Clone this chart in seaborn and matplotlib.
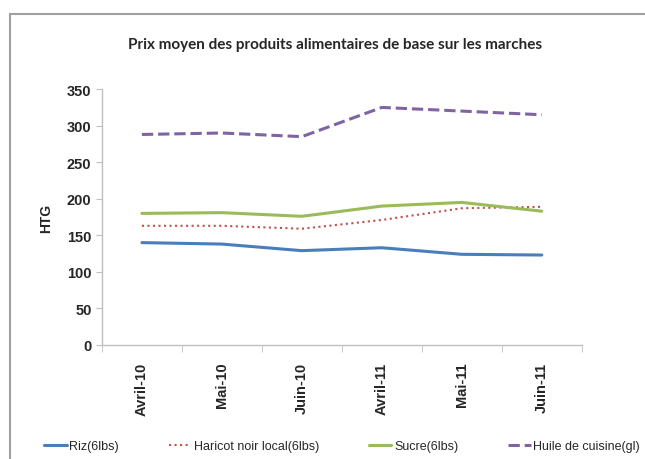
import pandas as pd
import matplotlib.pyplot as plt
import seaborn as sns
from matplotlib.patches import Rectangle

mois = ['Avril-10', 'Mai-10', 'Juin-10', 'Avril-11', 'Mai-11', 'Juin-11']
riz = [140, 138, 129, 133, 124, 123]
haricot = [163, 163, 159, 171, 187, 189]
sucre = [180, 181, 176, 190, 195, 183]
huile = [288, 290, 285, 325, 320, 315]

series = ['Riz(6lbs)', 'Haricot noir local(6lbs)', 'Sucre(6lbs)', 'Huile de cuisine(gl)']
couleurs = ['#4A7EBB', '#C0504D', '#9BBB59', '#8064A2']
styles = ['-', ':', '-', '--']

df = pd.DataFrame({'mois': mois * 4,
                   'prix': riz + haricot + sucre + huile,
                   'produit': [s for s in series for _ in mois]})
df['pos'] = list(range(len(mois))) * 4

sns.set_style('white')
plt.rcParams['font.family'] = ['Liberation Sans', 'DejaVu Sans']

fig = plt.figure(figsize=(6.45, 4.6), dpi=100)
ax = fig.add_axes([0.158, 0.248, 0.744, 0.556])

for s, c, ls in zip(series, couleurs, styles):
    sub = df[df['produit'] == s]
    sns.lineplot(data=sub, x='pos', y='prix', ax=ax, color=c, linestyle=ls,
                 linewidth=2.2 if ls != ':' else 1.5, label=s)

ax.set_xlim(-0.5, len(mois) - 0.5)
ax.set_ylim(0, 350)
ax.set_yticks(range(0, 351, 50))
ax.set_xticks(range(len(mois)))
ax.set_xticklabels(mois, rotation=90, fontweight='bold', fontsize=10.5)
ax.set_xticks([i - 0.5 for i in range(len(mois) + 1)], minor=True)
ax.tick_params(axis='x', which='major', length=0, pad=12)
ax.tick_params(axis='x', which='minor', length=5, color='#BFBFBF', direction='out', bottom=True)
ax.tick_params(axis='y', length=4, color='#BFBFBF', direction='out', left=True, labelsize=10.5)
for lab in ax.get_yticklabels():
    lab.set_fontweight('bold')
ax.set_xlabel('')
ax.set_ylabel('HTG', fontweight='bold', fontsize=10, labelpad=10)
for side in ['top', 'right']:
    ax.spines[side].set_visible(False)
for side in ['left', 'bottom']:
    ax.spines[side].set_color('#BFBFBF')
    ax.spines[side].set_linewidth(1)

ax.legend_.remove()
handles, labels = ax.get_legend_handles_labels()
fig.legend(handles, labels, loc='center', bbox_to_anchor=(0.53, 0.028), ncol=4,
           frameon=False, handlelength=1.8, handletextpad=0.2,
           columnspacing=4.0, prop={'family': 'Liberation Sans', 'size': 9})

fig.text(0.52, 0.902, 'Prix moyen des produits alimentaires de base sur les marches',
         ha='center', va='center', fontsize=11, fontweight='bold',
         family=['Lato', 'DejaVu Sans'])

fig.patches.append(Rectangle((10 / 645, -0.1), 1.2, 1.1 - 15 / 460,
                             transform=fig.transFigure, fill=False,
                             edgecolor='#A0A0A0', linewidth=1.5))

fig.savefig('out.png', dpi=100)
